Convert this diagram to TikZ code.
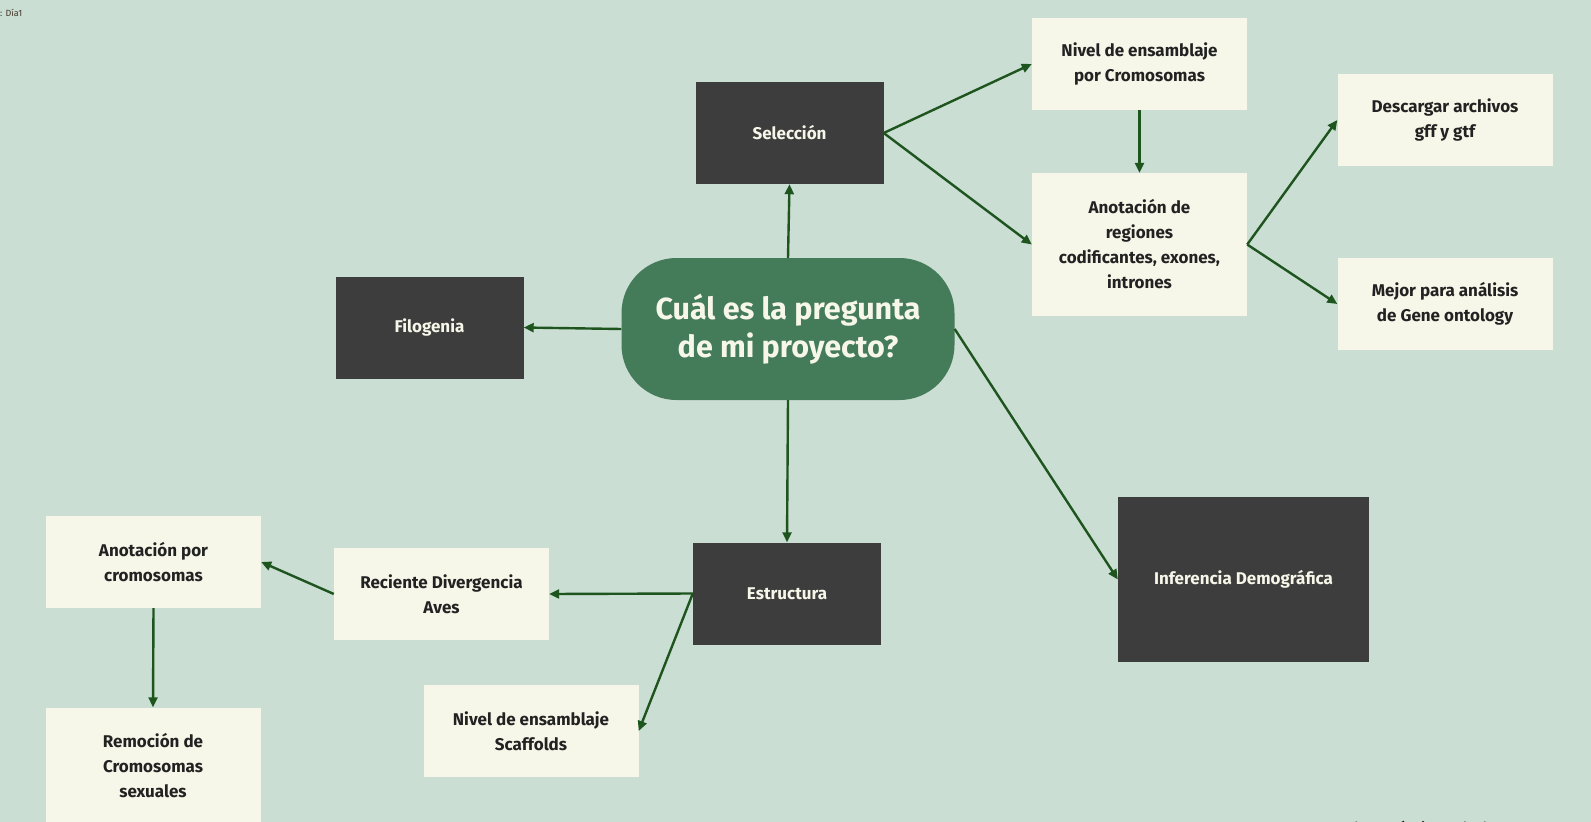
\documentclass[tikz,border=0pt]{standalone}
\usepackage{fontspec}
\setmainfont{Fira Sans}
\usetikzlibrary{arrows.meta}
\definecolor{fondo}{RGB}{203,222,211}
\definecolor{crema}{RGB}{246,246,233}
\definecolor{oscuro}{RGB}{61,61,61}
\definecolor{verde}{RGB}{68,123,89}
\definecolor{flecha}{RGB}{30,85,30}
\definecolor{letra}{RGB}{34,34,34}
\tikzset{
  caja/.style={rectangle, fill=crema, text=letra, align=center, inner sep=0pt,
    font=\fontsize{17}{25}\selectfont\bfseries, minimum width=215pt, minimum height=92pt},
  oscura/.style={rectangle, fill=oscuro, text=crema, align=center, inner sep=0pt,
    font=\fontsize{17}{25}\selectfont\bfseries, minimum width=188pt, minimum height=102pt},
  flechita/.style={draw=flecha, line width=2.4pt, -{Triangle[length=10pt,width=9pt]}},
}
\begin{document}
\begin{tikzpicture}[x=1pt,y=-1pt]
    \clip (0,0) rectangle (1591,822);
    \fill[fondo] (0,0) rectangle (1591,822);
    \node[anchor=west, text=letra!80!brown, font=\fontsize{9}{10}\selectfont, inner sep=0pt] (dia) at (0,13) {: Día1};
    %centre of the map
    \node[fill=verde, text=crema, rounded corners=55pt, align=center, minimum width=333pt, minimum height=142pt,
      font=\fontsize{30.5}{38}\selectfont\bfseries] (centro) at (788,329) {Cuál es la pregunta\\de mi proyecto?};
    \node[oscura] (sel) at (789.5,133) {Selección};
    \node[oscura] (filo) at (429.5,327.5) {Filogenia};
    \node[oscura] (estr) at (787,593.5) {Estructura};
    \node[oscura, minimum width=251pt, minimum height=165pt] (infer) at (1243.5,579.5) {Inferencia Demográfica};
    %right branch
    \node[caja] (nivcrom) at (1139.5,64) {Nivel de ensamblaje\\por Cromosomas};
    \node[caja, minimum height=143pt] (anot) at (1139.5,244.5) {Anotación de\\regiones\\codificantes, exones,\\intrones};
    \node[caja] (desc) at (1445,120) {Descargar archivos\\gff y gtf};
    \node[caja] (mejor) at (1445,304) {Mejor para análisis\\de Gene ontology};
    %left branch
    \node[caja] (reci) at (441.5,594) {Reciente Divergencia\\Aves};
    \node[caja] (scaf) at (531,731) {Nivel de ensamblaje\\Scaffolds};
    \node[caja] (anotcrom) at (153.5,562) {Anotación por\\cromosomas};
    \node[caja, minimum height=117pt] (remo) at (153,766) {Remoción de\\Cromosomas\\sexuales};
    \node[anchor=base west, text=letra, font=\fontsize{18}{20}\selectfont, inner sep=0pt] (pie) at (1281,835)
      {Vamos a las métricas de la estructura};
    %connectors
    \draw[flechita] (centro.north) -- (sel.south);
    \draw[flechita] (centro.west) -- (filo.east);
    \draw[flechita] (centro.south) -- (estr.north);
    \draw[flechita] (centro.east) -- (infer.west);
    \draw[flechita] (sel.east) -- (nivcrom.west);
    \draw[flechita] (sel.east) -- (anot.west);
    \draw[flechita] (nivcrom.south) -- (anot.north);
    \draw[flechita] (anot.east) -- (desc.west);
    \draw[flechita] (anot.east) -- (mejor.west);
    \draw[flechita] (estr.west) -- (reci.east);
    \draw[flechita] (estr.west) -- (scaf.east);
    \draw[flechita] (reci.west) -- (anotcrom.east);
    \draw[flechita] (anotcrom.south) -- (remo.north);
\end{tikzpicture}
\end{document}
